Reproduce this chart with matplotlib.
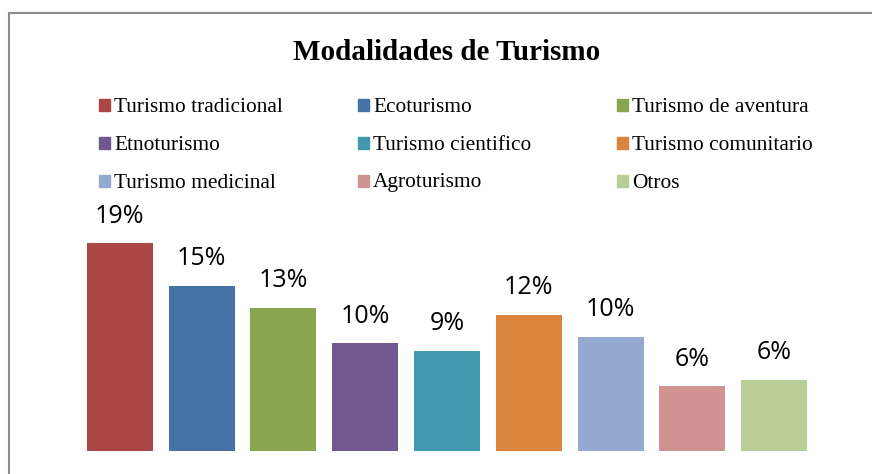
import matplotlib.pyplot as plt
from matplotlib.lines import Line2D
from matplotlib.patches import Rectangle

# data
categories = ['Turismo tradicional', 'Ecoturismo', 'Turismo de aventura',
              'Etnoturismo', 'Turismo cientifico', 'Turismo comunitario',
              'Turismo medicinal', 'Agroturismo', 'Otros']
values = [18.9, 15.0, 13.0, 9.8, 9.1, 12.4, 10.4, 5.9, 6.5]
labels = ['19%', '15%', '13%', '10%', '9%', '12%', '10%', '6%', '6%']
colors = ['#AA4643', '#4572A7', '#89A54E', '#71588F', '#4198AF',
          '#DB843D', '#93A9CF', '#D19392', '#B9CD96']

W, H = 872, 474
fig = plt.figure(figsize=(W / 100, H / 100), dpi=100)

def fx(px):
    return px / W

def fy(py):
    return 1 - py / H

# chart border (only top and left edges fall inside the picture)
fig.add_artist(Line2D([fx(9), fx(9)], [fy(12.5), fy(H + 5)], color='#8c8c8c', lw=1.5))
fig.add_artist(Line2D([fx(9), fx(W + 5)], [fy(12.5), fy(12.5)], color='#8c8c8c', lw=1.5))

# title
fig.text(fx(447), fy(60), 'Modalidades de Turismo', family='Liberation Serif',
         weight='bold', fontsize=21, ha='center', va='baseline')

# legend, three equal columns like Excel
for i, (name, c) in enumerate(zip(categories, colors)):
    row, col = divmod(i, 3)
    x0 = 99 + col * 259
    base = 111.5 + row * 38
    fig.add_artist(Rectangle((fx(x0), fy(base - 1)), fx(11), 11 / H,
                             transform=fig.transFigure, color=c))
    fig.text(fx(x0 + 15), fy(base), name, family='Liberation Serif',
             fontsize=15.4, ha='left', va='baseline')

# bars
top_px, bot_px = 220, 451
left_px, right_px = 79, 815
ax = fig.add_axes([fx(left_px), fy(bot_px), fx(right_px - left_px), (bot_px - top_px) / H])
x = list(range(len(categories)))
ax.bar(x, values, width=0.807, color=colors)
ax.set_xlim(-0.5, len(categories) - 0.5)
ax.set_ylim(0, (bot_px - top_px) / 11.0)
ax.axis('off')

for xi, v, lab in zip(x, values, labels):
    ax.annotate(lab, (xi, v), xytext=(0, 19.5), textcoords='offset points',
                ha='center', va='center', fontsize=18, family='Open Sans',
                annotation_clip=False)

fig.savefig('out.png', dpi=100)
